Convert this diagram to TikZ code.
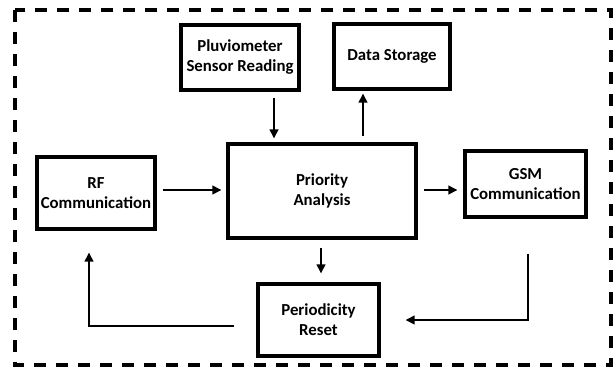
\documentclass[tikz,border=0pt]{standalone}
\usepackage{fontspec}
\setmainfont{Carlito}
\usetikzlibrary{arrows.meta}
\begin{document}
\begin{tikzpicture}[x=1pt,y=-1pt,
  box/.style={draw, line width=3.1pt, align=center, font=\fontsize{16.8}{20}\selectfont\bfseries, inner sep=0pt},
  arr/.style={line width=2.7pt, -{Triangle[length=9pt,width=8.5pt]}}]
\useasboundingbox (0,0) rectangle (616,367);
\draw[line width=3.2pt, dash pattern=on 12pt off 10pt] (15,10) rectangle (611,365);
\node[box, minimum width=118pt, minimum height=65pt] (pluv) at (240,57.5) {Pluviometer\\Sensor Reading};
\node[box, minimum width=116pt, minimum height=65pt] (ds) at (392,56.5) {Data Storage};
\node[box, minimum width=118pt, minimum height=72pt] (rf) at (96,193) {RF\\Communication};
\node[box, minimum width=188pt, minimum height=94pt] (prio) at (322,191) {Priority\\Analysis};
\node[box, minimum width=121pt, minimum height=66pt] (gsm) at (525.5,184) {GSM\\Communication};
\node[box, minimum width=121pt, minimum height=72pt] (per) at (318.5,320) {Periodicity\\Reset};
\draw[arr] ([xshift=34pt,yshift=-6pt]pluv.south) -- ([xshift=-48pt,yshift=4pt]prio.north);
\draw[arr] ([xshift=41pt,yshift=6pt]prio.north) -- ([xshift=-29pt,yshift=-3pt]ds.south);
\draw[arr] ([xshift=6pt,yshift=3pt]rf.east) -- ([xshift=-5pt,yshift=1pt]prio.west);
\draw[arr] ([xshift=6pt,yshift=1pt]prio.east) -- ([xshift=-6pt,yshift=-6pt]gsm.west);
\draw[arr] ([xshift=-1pt,yshift=-8pt]prio.south) -- ([xshift=2.5pt,yshift=9pt]per.north);
\draw[arr] ([xshift=2.5pt,yshift=-35pt]gsm.south) |- ([xshift=25pt]per.east);
\draw[arr] ([xshift=-22pt,yshift=-6pt]per.west) -| ([xshift=-7pt,yshift=-22pt]rf.south);
\end{tikzpicture}
\end{document}
